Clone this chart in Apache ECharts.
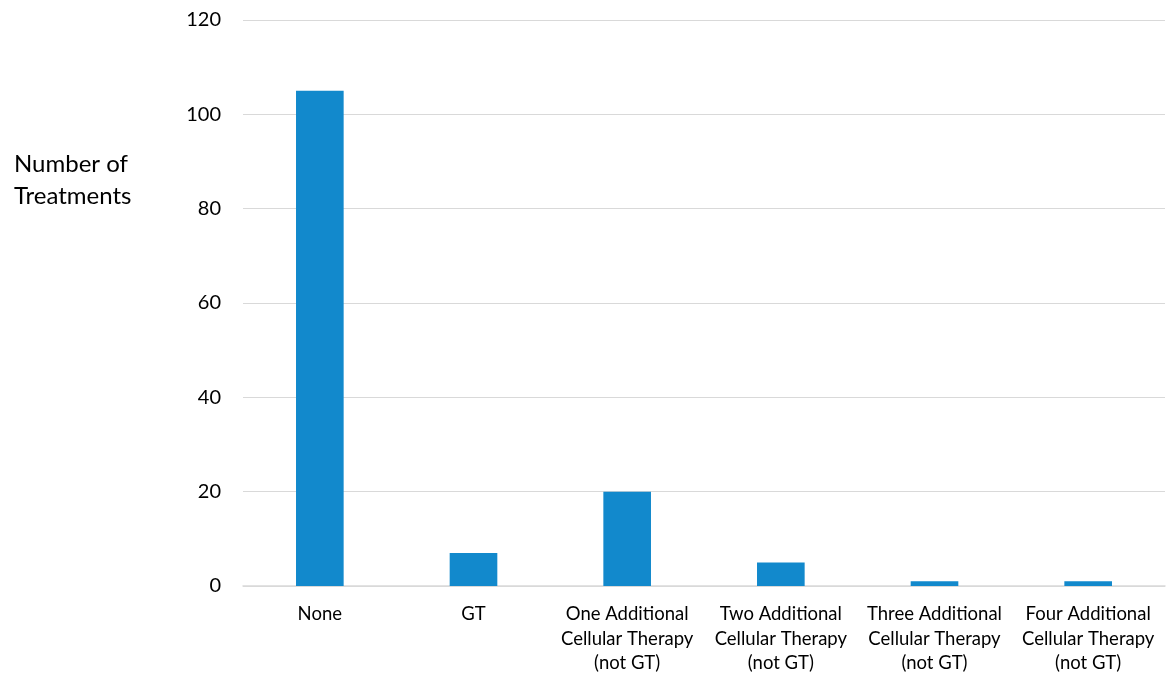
<!DOCTYPE html>
<html><head><meta charset="utf-8">
<script src="https://cdn.jsdelivr.net/npm/echarts@6/dist/echarts.min.js"></script>
<style>html,body{margin:0;padding:0;background:#fff}#c{width:1169px;height:677px}</style>
</head><body><div id="c"></div>
<script>
const categories = ['None', 'GT', 'One Additional\nCellular Therapy\n(not GT)', 'Two Additional\nCellular Therapy\n(not GT)', 'Three Additional\nCellular Therapy\n(not GT)', 'Four Additional\nCellular Therapy\n(not GT)'];
const values = [105, 7, 20, 5, 1, 1];
const yTicks = [0, 20, 40, 60, 80, 100, 120];
const yTitle = 'Number of\nTreatments';

const chart = echarts.init(document.getElementById('c'));
const font = 'Lato, "Open Sans", sans-serif';
chart.setOption({
  animation: false,
  grid: {left: 243, right: 4, top: 20, bottom: 91},
  xAxis: {
    type: 'category', data: categories,
    axisLine: {lineStyle: {color: '#d9d9d9', width: 1.5}},
    axisTick: {show: false},
    axisLabel: {interval: 0, color: '#000', fontFamily: font, fontSize: 18.5, lineHeight: 24.5, margin: 16}
  },
  yAxis: {
    type: 'value', min: yTicks[0], max: yTicks[yTicks.length - 1], interval: 20,
    axisLine: {show: false}, axisTick: {show: false},
    axisLabel: {color: '#000', fontFamily: font, fontSize: 20, margin: 22},
    splitLine: {lineStyle: {color: '#d9d9d9', width: 1}}
  },
  graphic: [{
    type: 'text', left: 14, top: 148,
    style: {text: yTitle, fill: '#000', font: '24px ' + font, lineHeight: 32}
  }],
  series: [{
    type: 'bar', data: values, barWidth: '31%',
    itemStyle: {color: '#1289cc'}
  }]
});
</script></body></html>
